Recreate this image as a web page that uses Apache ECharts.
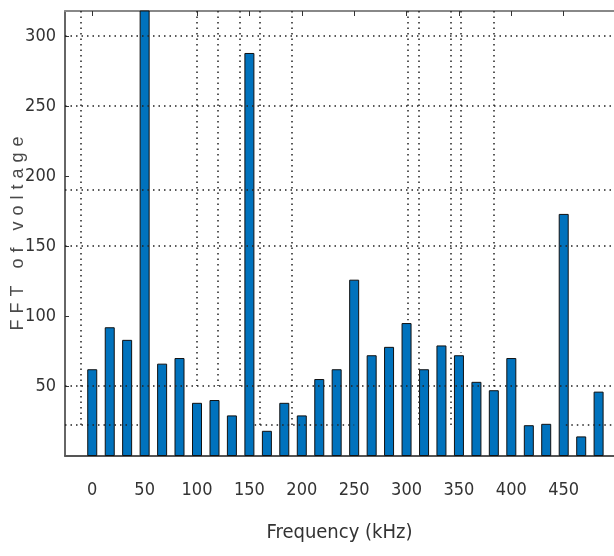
<!DOCTYPE html>
<html>
<head>
<meta charset="utf-8">
<script src="https://cdn.jsdelivr.net/npm/echarts@6/dist/echarts.min.js"></script>
<style>
  html, body { margin: 0; padding: 0; background: #fff; }
  #chart { width: 614px; height: 556px; }
</style>
</head>
<body>
<div id="chart"></div>
<script>
// bar positions (kHz) and FFT magnitudes
var freqs = [0, 16.7, 33.3, 50, 66.7, 83.3, 100, 116.7, 133.3, 150,
             166.7, 183.3, 200, 216.7, 233.3, 250, 266.7, 283.3, 300, 316.7,
             333.3, 350, 366.7, 383.3, 400, 416.7, 433.3, 450, 466.7, 483.3];
var fftValues = [62, 92, 83, 340, 66, 70, 38, 40, 29, 288,
                 18, 38, 29, 55, 62, 126, 72, 78, 95, 62,
                 79, 72, 53, 47, 70, 22, 23, 173, 14, 46];
var xTicks = [0, 50, 100, 150, 200, 250, 300, 350, 400, 450];
var yTicks = [50, 100, 150, 200, 250, 300];

// dotted grid of the original figure (it is irregular)
var gridY = [300, 250, 190, 150, 50];
var gridYLow = [[-26, 45], [155, 250], [452, 498]];   // the short line at 22
var gridX = [[-11, 22], [100, 50], [120, 50], [141, 50], [160, 22], [190.5, 22],
             [301, 97], [312, 22], [342, 22], [352, 74], [383, 49]];

var narrow = '"DejaVu Sans Condensed", "Liberation Sans Narrow", sans-serif';
var yName = 'FFT of voltage';

var chart = echarts.init(document.getElementById('chart'));

var dotted = { color: '#222', width: 1.5, type: [1.5, 4] };
var lineData = [];
gridY.forEach(function (v) {
  lineData.push([{ coord: [-26, v] }, { coord: [498, v] }]);
});
gridYLow.forEach(function (s) {
  lineData.push([{ coord: [s[0], 22] }, { coord: [s[1], 22] }]);
});
gridX.forEach(function (g) {
  lineData.push([{ coord: [g[0], 318] }, { coord: [g[0], g[1]] }]);
});

var option = {
  animation: false,
  grid: { left: 65, right: 0, top: 11, bottom: 100, outerBoundsMode: 'none', containLabel: false },
  xAxis: [
    {
      type: 'value',
      min: -26,
      max: 498,
      name: 'Frequency (kHz)',
      nameLocation: 'middle',
      nameGap: 67,
      nameMoveOverlap: false,
      nameTextStyle: { fontFamily: narrow, fontSize: 20, color: '#333' },
      axisLine: { lineStyle: { color: '#555', width: 2 } },
      axisTick: { inside: true, length: 5, customValues: xTicks, lineStyle: { color: '#333' } },
      axisLabel: { customValues: xTicks, margin: 25, fontFamily: narrow, fontSize: 18, color: '#333' },
      splitLine: { show: false }
    },
    {
      type: 'value',
      position: 'top',
      min: -26,
      max: 498,
      axisLine: { lineStyle: { color: '#888', width: 2 } },
      axisTick: { inside: true, length: 5, customValues: xTicks, lineStyle: { color: '#333' } },
      axisLabel: { show: false },
      splitLine: { show: false }
    }
  ],
  yAxis: {
    type: 'value',
    min: 0,
    max: 318,
    name: yName.split('').join('\u2004'),
    nameLocation: 'middle',
    nameGap: 38,
    nameMoveOverlap: false,
    nameTextStyle: { fontFamily: '"Liberation Sans", Arial, sans-serif', fontSize: 18, color: '#4a4a4a' },
    axisLine: { show: true, onZero: false, lineStyle: { color: '#333', width: 1.5 } },
    axisTick: { inside: true, length: 4, customValues: yTicks, lineStyle: { color: '#333' } },
    axisLabel: { customValues: yTicks, margin: 9, fontFamily: narrow, fontSize: 18, color: '#333' },
    splitLine: { show: false }
  },
  series: [
    {
      type: 'line',
      data: [],
      z: 1,
      silent: true,
      markLine: {
        silent: true,
        symbol: 'none',
        label: { show: false },
        lineStyle: dotted,
        data: lineData
      }
    },
    {
      type: 'bar',
      z: 3,
      barWidth: 10,
      data: freqs.map(function (f, i) { return [f, fftValues[i]]; }),
      itemStyle: { color: '#0072BD', borderColor: '#111', borderWidth: 1 }
    }
  ]
};

chart.setOption(option);
</script>
</body>
</html>
